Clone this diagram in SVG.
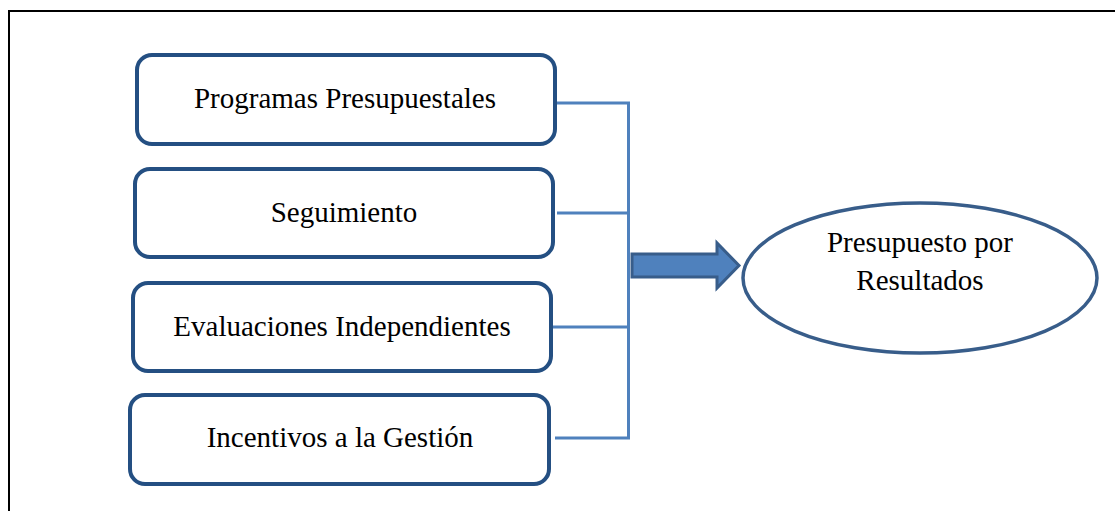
<svg xmlns="http://www.w3.org/2000/svg" width="1115" height="511" viewBox="0 0 1115 511">
<style>
.box{fill:#fff;stroke:#244F82;stroke-width:4}
.t{font-family:"Liberation Serif","Times New Roman",serif;font-size:29px;fill:#000;text-anchor:middle}
.c{fill:none;stroke:#4F81BD;stroke-width:3}
</style>
<rect width="1115" height="511" fill="#fff"/>
<path d="M9 520 V11 H1120" fill="none" stroke="#000" stroke-width="2"/>
<g id="connectors">
<path class="c" d="M555 103 H628.5 V438 H555"/>
<path class="c" d="M557 213 H630"/>
<path class="c" d="M551 327 H630"/>
<path d="M632 254 H717 V243 L739 265.5 L717 288 V277 H632 Z" fill="#4F81BD" stroke="#385D8A" stroke-width="3"/>
</g>
<g id="n1"><rect class="box" x="137" y="55" width="418" height="89" rx="15"/><text class="t" x="345" y="108">Programas Presupuestales</text></g>
<g id="n2"><rect class="box" x="135" y="169" width="418" height="88" rx="15"/><text class="t" x="344" y="222">Seguimiento</text></g>
<g id="n3"><rect class="box" x="133" y="283" width="418" height="88" rx="15"/><text class="t" x="342" y="336">Evaluaciones Independientes</text></g>
<g id="n4"><rect class="box" x="130" y="395" width="419" height="89" rx="15"/><text class="t" x="340" y="447">Incentivos a la Gestión</text></g>
<g id="n5"><ellipse cx="920" cy="278" rx="177" ry="75" fill="#fff" stroke="#385D8A" stroke-width="3.5"/><text class="t" x="920" y="252">Presupuesto por</text><text class="t" x="920" y="290">Resultados</text></g>
</svg>
